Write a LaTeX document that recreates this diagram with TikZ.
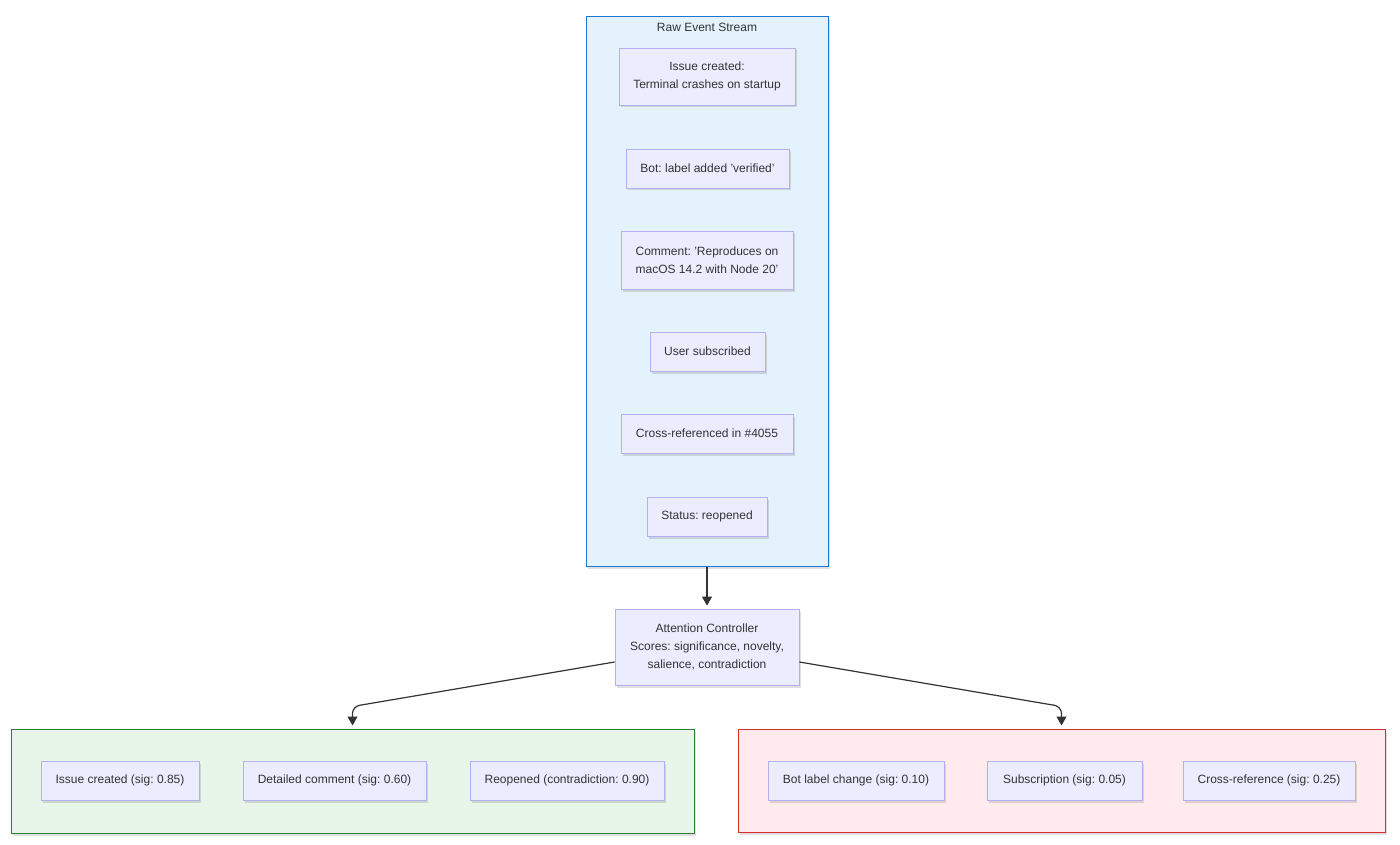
\documentclass[tikz,border=0pt]{standalone}
\usepackage{fontspec}
\setmainfont{Liberation Sans}
\usepackage{xcolor}
\usetikzlibrary{arrows.meta, shadows}
\definecolor{streamfill}{RGB}{227,242,253}
\definecolor{streamline}{RGB}{25,118,210}
\definecolor{eventfill}{RGB}{236,236,255}
\definecolor{eventline}{RGB}{180,176,240}
\definecolor{keepfill}{RGB}{232,245,233}
\definecolor{keepline}{RGB}{46,125,50}
\definecolor{dropfill}{RGB}{255,235,238}
\definecolor{dropline}{RGB}{211,47,47}
\definecolor{inkgray}{RGB}{51,51,51}
\frenchspacing

\tikzset{
  softshadow/.style={drop shadow={shadow xshift=1.5pt, shadow yshift=-2.5pt, opacity=0.12, fill=black}},
  eventbox/.style={draw=eventline, fill=eventfill, line width=0.8pt, inner sep=0pt,
    align=center, text=inkgray, minimum height=39pt, softshadow},
  groupbox/.style={line width=1pt, inner sep=0pt, softshadow},
  flow/.style={draw=inkgray, line width=1.2pt, rounded corners=7pt,
    -{Triangle[length=9pt, width=10pt]}, shorten >=3pt}
}

\begin{document}
\begin{tikzpicture}[x=1pt, y=-1pt, font=\fontsize{12}{18}\selectfont]
  \useasboundingbox (0,0) rectangle (1400,845);

  % incoming events
  \node[groupbox, draw=streamline, fill=streamfill, minimum width=242pt, minimum height=549pt] (stream) at (707,291.5) {};
  \node[text=inkgray] (streamtitle) at (707,27) {Raw Event Stream};
  \node[eventbox, minimum width=176pt, minimum height=57pt] (ev1) at (707,76.5) {Issue created:\\Terminal crashes on startup};
  \node[eventbox, minimum width=163pt] (ev2) at (707.5,168.5) {Bot: label added 'verified'};
  \node[eventbox, minimum width=172pt, minimum height=58pt] (ev3) at (707,260) {Comment: 'Reproduces on\\macOS 14.2 with Node 20'};
  \node[eventbox, minimum width=115pt] (ev4) at (707.5,351.5) {User subscribed};
  \node[eventbox, minimum width=172pt] (ev5) at (707,433.5) {Cross-referenced in \#4055};
  \node[eventbox, minimum width=120pt] (ev6) at (707,516.5) {Status: reopened};

  % scoring
  \node[eventbox, minimum width=184pt, minimum height=76pt] (ctrl) at (707,647) {Attention Controller\\Scores: significance, novelty,\\salience, contradiction};

  % kept
  \node[groupbox, draw=keepline, fill=keepfill, minimum width=683pt, minimum height=104pt] (keep) at (352.5,781) {};
  \node[eventbox, minimum width=158pt] (keep1) at (120,780.5) {Issue created (sig: 0.85)};
  \node[eventbox, minimum width=183pt] (keep2) at (334.5,780.5) {Detailed comment (sig: 0.60)};
  \node[eventbox, minimum width=194pt] (keep3) at (567,780.5) {Reopened (contradiction: 0.90)};

  % dropped
  \node[groupbox, draw=dropline, fill=dropfill, minimum width=647pt, minimum height=103pt] (drop) at (1061.5,780.5) {};
  \node[eventbox, minimum width=176pt] (drop1) at (856,780.5) {Bot label change (sig: 0.10)};
  \node[eventbox, minimum width=155pt] (drop2) at (1064.5,780.5) {Subscription (sig: 0.05)};
  \node[eventbox, minimum width=172pt] (drop3) at (1269,780.5) {Cross-reference (sig: 0.25)};

  \coordinate (keepturn) at ([yshift=22pt]keep.north);
  \coordinate (dropturn) at ([yshift=22pt]drop.north);

  \draw[flow] (stream) -- (ctrl);
  \draw[flow] ([yshift=-15pt]ctrl.west) -- (keepturn) -- (keep.north);
  \draw[flow] ([yshift=-15pt]ctrl.east) -- (dropturn) -- (drop.north);
\end{tikzpicture}
\end{document}
